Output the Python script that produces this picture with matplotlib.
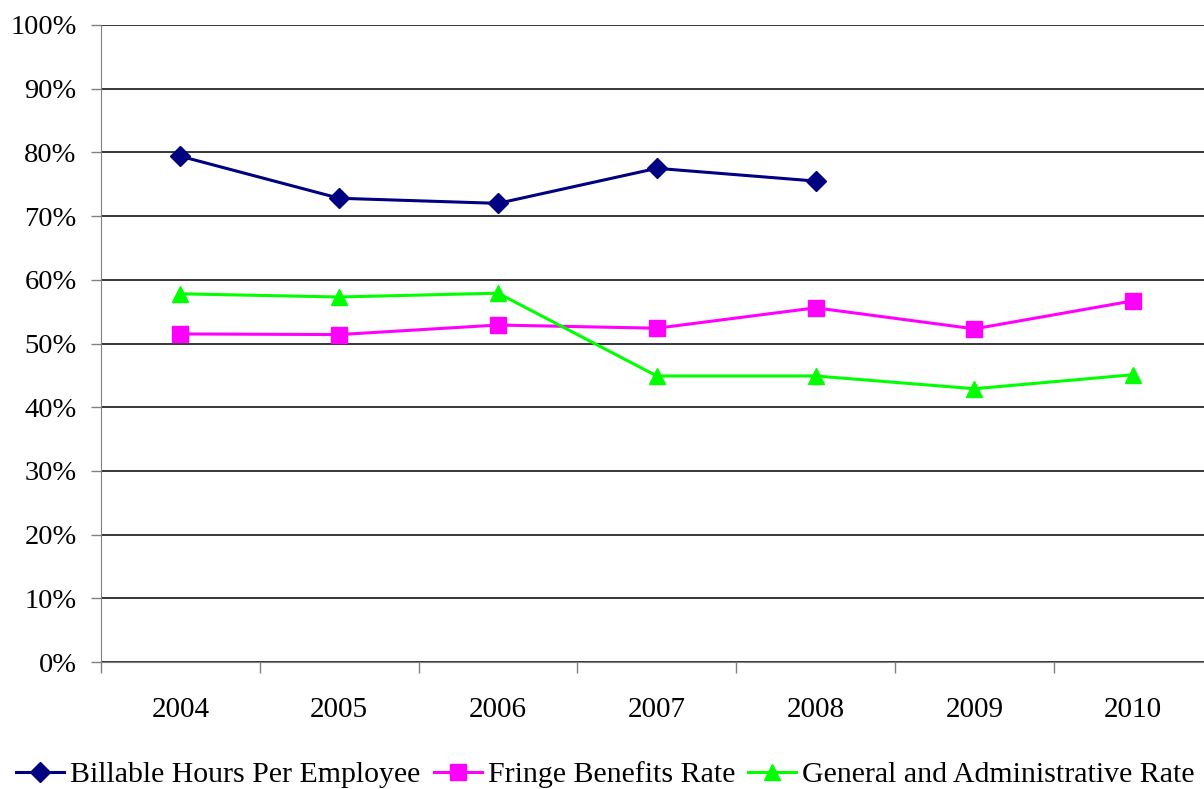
import matplotlib.pyplot as plt
from matplotlib.ticker import FuncFormatter, FixedLocator
import numpy as np

plt.rcParams['font.family'] = ['Liberation Serif', 'DejaVu Serif']

years = ['2004', '2005', '2006', '2007', '2008', '2009', '2010']
billable = [79.4, 72.8, 72.0, 77.5, 75.5, np.nan, np.nan]
fringe = [51.5, 51.4, 52.9, 52.4, 55.6, 52.3, 56.7]
gen_admin = [57.8, 57.3, 57.9, 44.9, 44.9, 42.9, 45.1]

fig = plt.figure(figsize=(12.04, 7.89), dpi=100)
ax = fig.add_axes([101 / 1204, 1 - 662 / 789, 1111.6 / 1204, 637 / 789])

x = np.arange(len(years))
ax.plot(x, billable, color='#000080', marker='D', markersize=10, linewidth=2.2,
        label='Billable Hours Per Employee')
ax.plot(x, fringe, color='#FF00FF', marker='s', markersize=11, linewidth=2.2,
        label='Fringe Benefits Rate')
ax.plot(x, gen_admin, color='#00FF00', marker='^', markersize=12, linewidth=2.2,
        label='General and Administrative Rate')

ax.set_xlim(-0.5, len(years) - 0.5)
ax.set_ylim(0, 100)
ax.set_yticks(np.arange(0, 101, 10))
ax.yaxis.set_major_formatter(FuncFormatter(lambda v, p: f'{v:.0f}%'))
ax.set_xticks(x)
ax.set_xticklabels(years)
ax.xaxis.set_minor_locator(FixedLocator(np.arange(-0.5, len(years), 1.0)))
ax.tick_params(axis='x', which='major', length=0, pad=25, labelsize=21)
ax.tick_params(axis='x', which='minor', length=8, color='#808080', width=1)
ax.tick_params(axis='y', length=7, color='#808080', width=1, pad=10.5, labelsize=20.5)

ax.grid(axis='y', color='black', linewidth=1.1)
ax.set_axisbelow(True)
for side in ['top', 'right']:
    ax.spines[side].set_visible(False)
ax.spines['left'].set_color('#808080')
ax.spines['bottom'].set_color('#808080')

fig.legend(loc='center', bbox_to_anchor=(0.503, 1 - 775 / 789), ncol=3, frameon=False,
           fontsize=21.5, handlelength=1.6, handletextpad=0.2, columnspacing=0.45,
           borderaxespad=0)

fig.savefig('out.png', dpi=100)
